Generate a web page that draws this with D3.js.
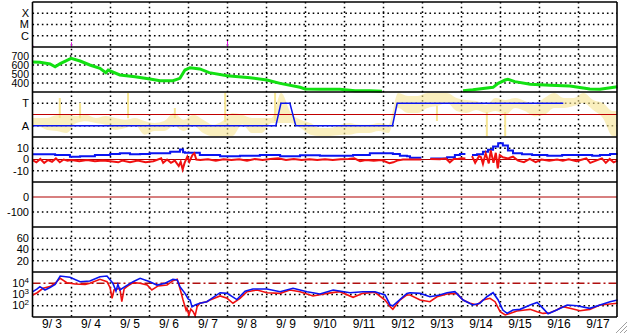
<!DOCTYPE html>
<html>
<head>
<meta charset="utf-8">
<script src="https://cdn.jsdelivr.net/npm/d3@7"></script>
<style>
  body { margin: 0; background: #fff; }
  svg text { font-family: "Liberation Sans", Arial, sans-serif; font-size: 11px; fill: #000; }
</style>
</head>
<body>
<svg id="chart" width="628" height="334"></svg>
<script>
// time is counted in days since 9/3 00:00
var dayLabels = ['9/ 3', '9/ 4', '9/ 5', '9/ 6', '9/ 7', '9/ 8', '9/ 9', '9/10', '9/11', '9/12', '9/13', '9/14', '9/15', '9/16', '9/17'];

// X-ray flares (W/m2)
var flareDay = [0.02, 1.0, 5.0];
var flareFlux = [1.3e-7, 2.6e-7, 3.4e-7];

// solar wind speed (km/s), null = no data
var speedDay = [0, 0.19, 0.45, 0.58, 0.71, 0.99, 1.22, 1.47, 1.73, 1.88, 1.94, 2.24, 2.63, 3.01, 3.27, 3.6, 3.78, 3.91, 4.04, 4.29, 4.53, 4.99, 5.58, 6.01, 6.35, 6.86, 6.99, 7.37, 7.88, 8.27, 8.65, 8.96, 9.0, 11.0, 11.04, 11.29, 11.81, 11.94, 12.12, 12.19, 12.37, 12.76, 13.27, 13.78, 14.29, 14.55, 15.0];
var speedVal = [633, 630, 611, 581, 615, 674, 644, 600, 563, 515, 544, 489, 470, 444, 426, 426, 452, 544, 570, 556, 515, 481, 459, 433, 396, 352, 333, 330, 330, 315, 315, 307, null, null, 315, 325, 352, 396, 433, 441, 415, 385, 374, 367, 333, 330, 359];

// IMF angle scatter (deg), range per 6-hour bin
var phiLo = [88, 56, 48, 32, 112, 126, 112, 96, 56, 72, 96, 18, 48, 48, 88, 48, 88, 32, 6, 8,
             8, 100, 32, 32, 112, 112, 112, 72, 18, 8, 8, 16, 18, 32, 32, 48, 32, 232, 192, 192,
             232, 248, 272, 208, 192, 216, 192, 208, 178, 232, 208, 166, 178, 232, 232, 248, 272, 216, 152, 8];
var phiHi = [152, 152, 176, 178, 168, 178, 152, 168, 152, 138, 152, 128, 112, 128, 192, 138, 178, 138, 98, 128,
             192, 178, 152, 152, 152, 352, 192, 138, 112, 72, 72, 96, 112, 98, 98, 112, 98, 352, 328, 328,
             352, 352, 352, 312, 296, 288, 258, 312, 296, 312, 288, 258, 312, 352, 312, 312, 352, 296, 272, 208];
var spikeDay = [0.7, 1.22, 2.45, 3.65, 4.94, 6.22, 10.37, 11.65, 12.12];
var spikeLo = [152, 150, 150, 150, 120, 128, 128, 8, 8];
var spikeHi = [312, 272, 352, 232, 352, 352, 250, 200, 200];

// sector polarity (A = 90, T = 270)
var sectorDay = [0, 6.24, 6.37, 6.60, 6.75, 9.23, 9.35, 13.61];
var sectorVal = [90, 90, 270, 270, 90, 90, 270, 270];

// IMF Bt and Bz (nT)
var btDay = [0, 0.45, 0.58, 0.96, 1.22, 1.6, 1.99, 2.24, 2.5, 2.76, 3.01, 3.27, 3.53, 3.78, 3.86, 3.91, 4.04, 4.29, 4.81, 5.32, 5.83, 6.35, 6.86, 7.37, 7.88, 8.22, 8.65, 8.99, 9.24, 9.42, 9.6, 9.68, 9.97, 10.1, 10.2, 10.44, 10.63, 10.83, 10.96, 11.1, 11.2, 11.27, 11.4, 11.55, 11.68, 11.81, 11.94, 12.06, 12.19, 12.32, 12.55, 12.81, 13.2, 13.58, 13.96, 14.35, 14.55, 14.81, 15.0];
var btVal = [4.6, 4.6, 4.0, 2.5, 2.9, 4.0, 4.9, 5.5, 4.6, 4.9, 5.5, 5.5, 7.0, 9.0, 6.5, 6.0, 6.0, 4.0, 3.0, 3.4, 4.0, 3.0, 3.7, 3.4, 3.4, 4.0, 5.5, 5.5, 4.9, 3.4, 3.0, 1.6, 1.6, null, 1.0, 1.0, 2.0, 4.0, 4.9, 4.9, null, 4.0, 4.6, 7.0, 8.7, 11.5, 14.4, 12.4, 8.0, 5.5, 4.6, 4.0, 3.4, 4.0, 4.0, 3.4, 4.0, 4.9, 4.9];
var bzDay = [0, 0.1, 0.2, 0.3, 0.4, 0.5, 0.6, 0.7, 0.8, 0.9, 1.0, 1.2, 1.4, 1.6, 1.8, 2.0, 2.2, 2.3, 2.5, 2.7, 2.9, 3.1, 3.3, 3.35, 3.45, 3.55, 3.65, 3.75, 3.8, 3.85, 3.9, 3.97, 4.02, 4.1, 4.15, 4.2, 4.3, 4.5, 4.7, 4.9, 5.1, 5.3, 5.5, 5.7, 5.9, 6.1, 6.3, 6.5, 6.7, 6.9, 7.1, 7.3, 7.5, 7.7, 7.9, 8.1, 8.25, 8.4, 8.55, 8.75, 8.95, 9.15, 9.25, 9.35, 9.5, 9.68, 9.97, 10.1, 10.2, 10.44, 10.6, 10.7, 10.8, 10.9, 11.0, 11.1, 11.2, 11.27, 11.35, 11.45, 11.5, 11.55, 11.62, 11.7, 11.75, 11.82, 11.88, 11.93, 11.98, 12.06, 12.19, 12.32, 12.45, 12.6, 12.75, 12.9, 13.05, 13.25, 13.45, 13.6, 13.75, 13.95, 14.1, 14.2, 14.3, 14.45, 14.6, 14.7, 14.8, 14.9, 15.0];
var bzVal = [-0.5, -2.5, 0.5, -3, -0.5, -2, 1, -2.5, 0, -1, -0.5, -1.5, -0.5, -1.5, -1, -1.5, -2.5, -1, -2.4, -1, -2.5, -1.5, 1, -3, 0, -3, -1, -5.8, -2, -8.8, -3, 2.5, -2, 4, 5.5, 0, -0.5, 0.2, -1, 0.2, -0.5, 0.2, -1, 0.5, -0.5, 0.5, 1, -0.5, 0.5, -0.5, 0.2, -0.5, 0.2, -0.5, 0.3, 0.5, 1, -1.5, -0.5, -1, -0.5, -3.3, -2.5, -1, 0, 0, 0, null, 0.5, 0.3, 0.8, -2.5, 0.5, 0.5, 1.0, 0.8, null, 3, -3, 3, 2, -4, 5.5, -3.5, 8, -3, 6, -7.8, 4, 2, 1, 2.5, -1, -2.4, 0.5, -2.4, 0, -1, 0, -1, 0.2, -1.5, 0, 1, -3, -1, 1, -3, 0.5, -2.5, -1];

// high-energy electron / proton flux, log10 values
var fluxADay = [0.01, 0.12, 0.27, 0.45, 0.58, 0.71, 0.88, 1.09, 1.35, 1.47, 1.73, 1.91, 1.99, 2.04, 2.09, 2.24, 2.29, 2.35, 2.42, 2.58, 2.76, 2.94, 3.06, 3.22, 3.45, 3.6, 3.71, 3.78, 3.86, 3.94, 3.96, 4.01, 4.06, 4.12, 4.17, 4.22, 4.29, 4.47, 4.55, 4.81, 4.99, 5.14, 5.32, 5.5, 5.76, 6.01, 6.35, 6.6, 6.86, 7.19, 7.55, 7.88, 8.22, 8.47, 8.78, 9.04, 9.17, 9.24, 9.42, 9.6, 9.68, 9.94, 10.19, 10.37, 10.63, 10.88, 11.04, 11.22, 11.4, 11.55, 11.73, 11.86, 11.99, 12.12, 12.24, 12.42, 12.63, 12.76, 12.94, 13.09, 13.27, 13.44, 13.6, 13.78, 14.04, 14.29, 14.55, 14.81, 15.0];
var fluxALog = [2.96, 3.16, 3.55, 3.7, 4.0, 4.44, 4.05, 3.93, 3.9, 4.0, 4.35, 4.14, 3.6, 2.66, 3.4, 3.55, 2.36, 3.5, 3.7, 4.05, 4.0, 3.84, 3.4, 3.76, 3.84, 4.23, 4.35, 3.55, 2.51, 1.6, 1.77, 1.15, 1.7, 1.47, 1.1, 1.9, 2.22, 2.36, 2.51, 2.87, 2.66, 2.22, 2.66, 3.25, 3.4, 3.16, 3.1, 3.4, 3.25, 2.87, 3.1, 3.25, 2.75, 3.1, 3.2, 2.51, 1.92, 1.68, 2.51, 2.96, 2.96, 2.51, 2.36, 2.8, 3.04, 3.1, 2.51, 2.22, 2.07, 2.51, 2.66, 2.36, 1.47, 1.18, 1.32, 1.53, 1.62, 1.68, 1.47, 1.32, 1.38, 1.62, 1.92, 1.77, 1.56, 1.68, 2.07, 2.16, 2.22];
var fluxBDay = [0.01, 0.12, 0.19, 0.32, 0.45, 0.58, 0.71, 0.96, 1.22, 1.47, 1.73, 1.91, 2.06, 2.14, 2.19, 2.24, 2.37, 2.58, 2.76, 3.01, 3.19, 3.4, 3.6, 3.71, 3.78, 3.91, 3.99, 4.04, 4.09, 4.17, 4.29, 4.47, 4.55, 4.81, 4.99, 5.24, 5.45, 5.65, 6.01, 6.35, 6.68, 7.04, 7.37, 7.71, 8.14, 8.47, 8.78, 9.04, 9.17, 9.24, 9.42, 9.6, 9.68, 9.94, 10.19, 10.44, 10.63, 10.83, 11.04, 11.29, 11.47, 11.65, 11.81, 11.94, 12.06, 12.17, 12.32, 12.5, 12.76, 12.94, 13.09, 13.22, 13.44, 13.71, 13.96, 14.29, 14.55, 14.81, 15.0];
var fluxBLog = [3.25, 3.5, 3.7, 3.4, 3.62, 3.9, 4.64, 4.53, 4.14, 4.2, 4.58, 4.64, 4.0, 3.3, 3.9, 3.4, 3.7, 4.14, 4.44, 4.14, 3.84, 4.0, 4.35, 4.29, 3.7, 3.1, 2.6, 2.51, 1.9, 2.07, 2.22, 2.36, 2.55, 3.16, 3.1, 2.55, 3.3, 3.49, 3.49, 3.25, 3.55, 3.25, 3.04, 3.4, 3.16, 3.25, 3.25, 2.96, 2.07, 2.0, 2.55, 3.1, 3.16, 3.1, 2.8, 2.96, 3.16, 3.25, 2.51, 2.07, 2.22, 2.8, 3.16, 2.51, 1.62, 1.32, 1.62, 1.68, 2.07, 2.29, 1.77, 1.29, 1.62, 2.07, 2.0, 1.77, 2.07, 2.36, 2.51];

var svg = d3.select('#chart');
var left = 32.5, right = 617, top0 = 2, ph = 45;
function pTop(i) { return top0 + ph * i; }

var x = d3.scaleLinear().domain([0, 15]).range([left, 617.5]);

// one y scale per panel
var yX = d3.scaleLog().domain([1e-7, 1e-3]).range([pTop(1), pTop(0)]);
var yV = d3.scaleLinear().domain([300, 800]).range([pTop(2), pTop(1)]);
var yPhi = d3.scaleLinear().domain([0, 360]).range([pTop(3), pTop(2)]);
var yB = d3.scaleLinear().domain([-20, 20]).range([pTop(4), pTop(3)]);
var yDst = d3.scaleLinear().domain([-200, 100]).range([pTop(5), pTop(4)]);
var yK = d3.scaleLinear().domain([0, 80]).range([pTop(6), pTop(5)]);
var yF = d3.scaleLog().domain([10, 1e5]).range([pTop(7), pTop(6)]);

var dotted = '1.6,3.07';
var grid = svg.append('g');
function hgrid(y) {
    grid.append('line').attr('x1', left).attr('x2', right).attr('y1', y).attr('y2', y)
        .attr('stroke', '#000').attr('stroke-width', 1.5).attr('stroke-dasharray', dotted);
}
[1e-6, 1e-5, 1e-4].forEach(function (v) { hgrid(yX(v)); });
[400, 500, 600, 700].forEach(function (v) { hgrid(yV(v)); });
[90, 270].forEach(function (v) { hgrid(yPhi(v)); });
[-10, 10].forEach(function (v) { hgrid(yB(v)); });
[-100].forEach(function (v) { hgrid(yDst(v)); });
[20, 40, 60].forEach(function (v) { hgrid(yK(v)); });
[100, 1000].forEach(function (v) { hgrid(yF(v)); });

d3.range(1, 15).forEach(function (d) {
    grid.append('line').attr('x1', x(d)).attr('x2', x(d)).attr('y1', pTop(0)).attr('y2', pTop(7))
        .attr('stroke', '#000').attr('stroke-width', 1.5).attr('stroke-dasharray', dotted);
});

// reference lines
function refLine(y, color) {
    svg.append('line').attr('x1', left).attr('x2', right).attr('y1', y).attr('y2', y)
        .attr('stroke', color).attr('stroke-width', 1.2);
}

// panel 1: flares
svg.append('g').selectAll('line').data(flareDay).enter().append('line')
    .attr('x1', d => x(d)).attr('x2', d => x(d))
    .attr('y1', yX(1e-7)).attr('y2', (d, i) => yX(flareFlux[i]))
    .attr('stroke', '#e010e0').attr('stroke-width', 1);

// panel 2: speed
var speed = speedDay.map((d, i) => ({ d: d, v: speedVal[i] }));
svg.append('path').datum(speed)
    .attr('d', d3.line().defined(p => p.v != null).x(p => x(p.d)).y(p => yV(p.v)))
    .attr('fill', 'none').attr('stroke', '#12e012').attr('stroke-width', 3);

// panel 3: angle scatter, sector line
var phi = phiLo.map((lo, i) => ({ d: i * 0.25 + 0.125, lo: lo, hi: phiHi[i] }));
phi.unshift({ d: 0, lo: phiLo[0], hi: phiHi[0] });
phi.push({ d: 15, lo: phiLo[59], hi: phiHi[59] });
svg.append('path').datum(phi)
    .attr('d', d3.area().curve(d3.curveMonotoneX).x(p => x(p.d)).y0(p => yPhi(p.lo)).y1(p => yPhi(p.hi)))
    .attr('fill', '#f6e592').attr('opacity', 0.6);
svg.append('g').selectAll('line').data(spikeDay).enter().append('line')
    .attr('x1', d => x(d)).attr('x2', d => x(d))
    .attr('y1', (d, i) => yPhi(spikeLo[i])).attr('y2', (d, i) => yPhi(spikeHi[i]))
    .attr('stroke', '#f6e592').attr('stroke-width', 2);
refLine(yPhi(180), '#c00000');
var sector = sectorDay.map((d, i) => ({ d: d, v: sectorVal[i] }));
svg.append('path').datum(sector)
    .attr('d', d3.line().x(p => x(p.d)).y(p => yPhi(p.v)))
    .attr('fill', 'none').attr('stroke', '#0a14f0').attr('stroke-width', 1.5);

// panel 4: Bt, Bz
refLine(yB(0), '#b00000');
var bt = btDay.map((d, i) => ({ d: d, v: btVal[i] }));
var bz = bzDay.map((d, i) => ({ d: d, v: bzVal[i] }));
svg.append('path').datum(bt)
    .attr('d', d3.line().defined(p => p.v != null).curve(d3.curveStepAfter).x(p => x(p.d)).y(p => yB(p.v)))
    .attr('fill', 'none').attr('stroke', '#0a14f0').attr('stroke-width', 2);
svg.append('path').datum(bz)
    .attr('d', d3.line().defined(p => p.v != null).x(p => x(p.d)).y(p => yB(p.v)))
    .attr('fill', 'none').attr('stroke', '#f01010').attr('stroke-width', 2);

// panel 5: Dst zero line
refLine(yDst(0), '#b00000');

// panel 7: flux
svg.append('line').attr('x1', left).attr('x2', right).attr('y1', yF(1e4)).attr('y2', yF(1e4))
    .attr('stroke', '#b01010').attr('stroke-width', 1.3).attr('stroke-dasharray', '8,3,2,3');
var fa = fluxADay.map((d, i) => ({ d: d, v: Math.pow(10, fluxALog[i]) }));
var fb = fluxBDay.map((d, i) => ({ d: d, v: Math.pow(10, fluxBLog[i]) }));
svg.append('path').datum(fa)
    .attr('d', d3.line().x(p => x(p.d)).y(p => yF(p.v)))
    .attr('fill', 'none').attr('stroke', '#f01010').attr('stroke-width', 1.6);
svg.append('path').datum(fb)
    .attr('d', d3.line().x(p => x(p.d)).y(p => yF(p.v)))
    .attr('fill', 'none').attr('stroke', '#0a14f0').attr('stroke-width', 1.6);

// frames
for (var i = 0; i <= 7; i++) {
    svg.append('line').attr('x1', left).attr('x2', right).attr('y1', pTop(i)).attr('y2', pTop(i))
        .attr('stroke', '#000').attr('stroke-width', 1.6);
}
[left, right].forEach(function (xx) {
    svg.append('line').attr('x1', xx).attr('x2', xx).attr('y1', pTop(0)).attr('y2', pTop(7))
        .attr('stroke', '#000').attr('stroke-width', 1.6);
});

// y labels (speed labels sit as tightly as in the original)
var labels = svg.append('g').attr('text-anchor', 'end');
function ylab(y, t, size) {
    labels.append('text').attr('x', 29).attr('y', y).attr('dy', '0.36em')
        .style('font-size', (size || 11) + 'px').text(t);
}
ylab(yX(1e-4), 'X'); ylab(yX(1e-5), 'M'); ylab(yX(1e-6), 'C');
[700, 600, 500, 400].forEach(v => ylab(yV(v), v, 10.5));
ylab(yPhi(270), 'T'); ylab(yPhi(90), 'A');
[10, 0, -10].forEach(v => ylab(yB(v), v));
[0, -100].forEach(v => ylab(yDst(v), v));
[60, 40, 20].forEach(v => ylab(yK(v), v));
[4, 3, 2].forEach(function (e) {
    var t = labels.append('text').attr('x', 29).attr('y', yF(Math.pow(10, e)) - 0.5).attr('dy', '0.36em');
    t.append('tspan').text('10');
    t.append('tspan').attr('dy', -4).style('font-size', '8px').text(e);
});

// x labels
svg.append('g').selectAll('text').data(dayLabels).enter().append('text')
    .attr('x', (d, i) => x(i + 0.5)).attr('y', 328).attr('text-anchor', 'middle')
    .style('font-size', '12px').style('white-space', 'pre').text(d => d);

// window resize grip
[4, 8, 12].forEach(function (g) {
    svg.append('line').attr('x1', 628 - g).attr('y1', 333).attr('x2', 627).attr('y2', 334 - g)
        .attr('stroke', '#a0a0a0').attr('stroke-width', 1);
    svg.append('line').attr('x1', 628 - g + 1).attr('y1', 333).attr('x2', 627).attr('y2', 334 - g + 1)
        .attr('stroke', '#fff').attr('stroke-width', 1);
});
</script>
</body>
</html>
